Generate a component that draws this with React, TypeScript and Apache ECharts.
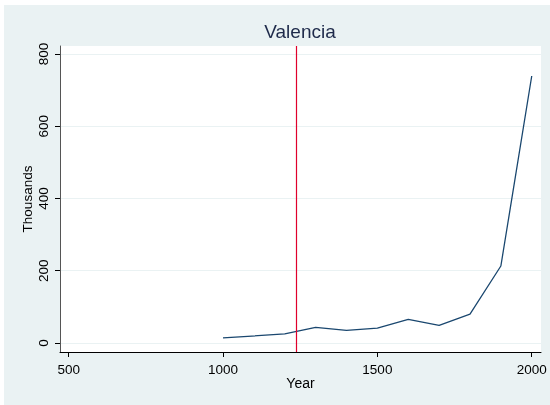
import React, { useEffect, useRef } from "react";
import * as echarts from "echarts";

const years = [1000, 1200, 1300, 1400, 1500, 1600, 1700, 1800, 1900, 2000];
const population = [14, 25, 43, 35, 41, 65, 49, 80, 213, 739];
const xTicks = [500, 1000, 1500, 2000];
const yTicks = [0, 200, 400, 600, 800];
const markerYear = 1238;
const titleText = "Valencia";
const xName = "Year";
const yName = "Thousands";

const FONT = "'Liberation Sans', Arial, Helvetica, sans-serif";
const RED = "#e0002c";

export default function App() {
  const ref = useRef<HTMLDivElement>(null);
  useEffect(() => {
    document.body.style.margin = "0";
    document.body.style.background = "#ffffff";
    const chart = echarts.init(ref.current!, null, { renderer: "svg" });
    chart.setOption({
      animation: false,
      textStyle: { fontFamily: FONT },
      graphic: [
        {
          type: "rect",
          z: -10,
          silent: true,
          shape: { x: 4, y: 5, width: 546, height: 400 },
          style: { fill: "#eaf2f3" },
        },
      ],
      title: {
        text: titleText,
        left: 295,
        textAlign: "center",
        top: 17,
        textStyle: { fontSize: 19, fontWeight: "normal", color: "#1e2a4a", fontFamily: FONT },
      },
      grid: {
        left: 60,
        right: 9,
        top: 46,
        bottom: 53,
        show: true,
        backgroundColor: "#ffffff",
        borderWidth: 0,
        containLabel: false,
      },
      xAxis: {
        type: "value",
        min: 472,
        max: 2030,
        name: xName,
        nameLocation: "middle",
        nameGap: 24,
        nameMoveOverlap: false,
        nameTextStyle: { fontSize: 14, color: "#000", fontFamily: FONT },
        axisLine: { show: true, onZero: false, lineStyle: { color: "#000", width: 1 } },
        axisTick: { show: true, length: 5, customValues: xTicks, lineStyle: { color: "#000" } },
        axisLabel: {
          customValues: xTicks,
          fontSize: 13.5,
          color: "#000",
          margin: 10,
          fontFamily: FONT,
          formatter: (v: number) => String(v),
        },
        splitLine: { show: false },
      },
      yAxis: {
        type: "value",
        min: -25,
        max: 822,
        name: yName,
        nameLocation: "middle",
        nameGap: 26,
        nameMoveOverlap: false,
        nameTextStyle: { fontSize: 13.5, color: "#000", fontFamily: FONT },
        axisLine: { show: true, onZero: false, lineStyle: { color: "#555", width: 1 } },
        axisTick: { show: true, length: 5, customValues: yTicks, lineStyle: { color: "#000" } },
        axisLabel: {
          customValues: yTicks,
          rotate: 90,
          fontSize: 13.5,
          color: "#000",
          margin: 10,
          fontFamily: FONT,
          formatter: (v: number) => String(v),
        },
        splitLine: { show: true, lineStyle: { color: "#eaf2f3", width: 1 } },
      },
      series: [
        {
          type: "line",
          data: years.map((y, i) => [y, population[i]]),
          symbol: "none",
          lineStyle: { color: "#1a476f", width: 1.3 },
          markLine: {
            silent: true,
            symbol: "none",
            label: { show: false },
            itemStyle: { color: RED },
            lineStyle: { color: RED, type: "solid", width: 1.2, opacity: 1 },
            emphasis: { disabled: true },
            data: [{ xAxis: markerYear, lineStyle: { color: RED, width: 1.2 } }],
          },
        },
      ],
    });
    return () => chart.dispose();
  }, []);
  return <div ref={ref} style={{ width: 550, height: 405, position: "fixed", left: 0, top: 0 }} />;
}
